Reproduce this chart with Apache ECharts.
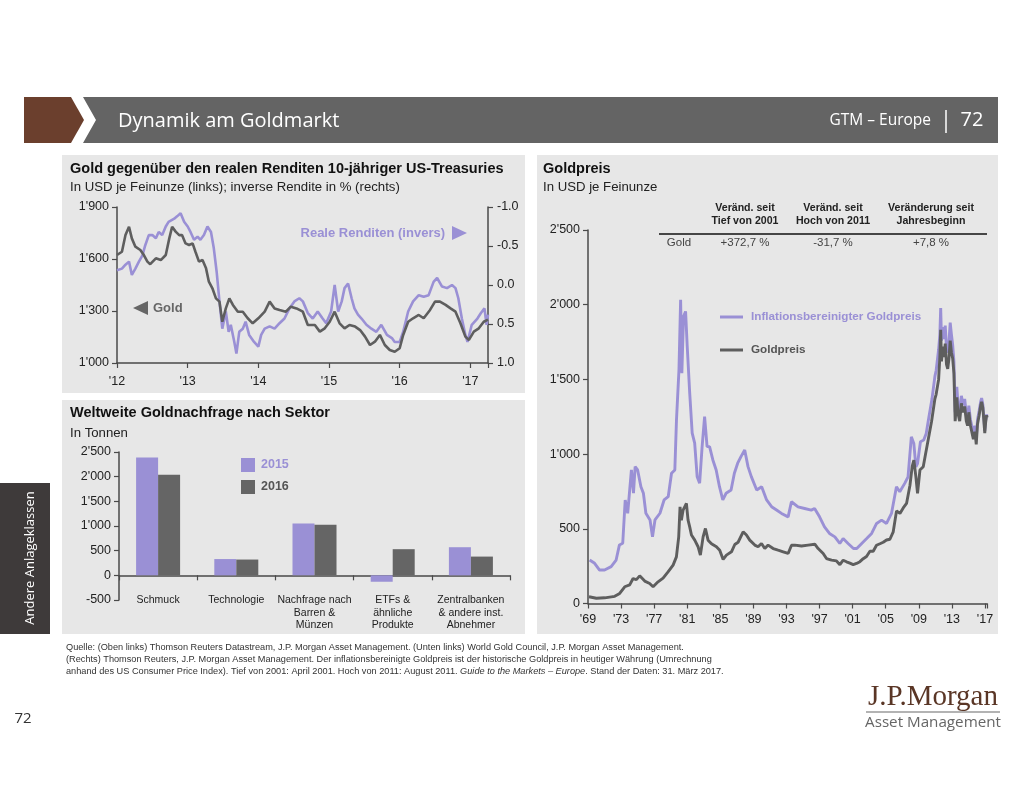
<!DOCTYPE html>
<html><head><meta charset="utf-8">
<script src="https://cdn.jsdelivr.net/npm/echarts/dist/echarts.min.js"></script>
<style>html,body{margin:0;padding:0;background:#fff}#c{width:1024px;height:791px}</style>
</head><body><div id="c"></div>
<script>
// ---------- Top left: gold price (USD/oz) vs 10y real yield (%, inverted) ----------
const goldT = [2012.00,2012.07,2012.12,2012.17,2012.21,2012.26,2012.33,2012.38,2012.43,2012.47,2012.55,2012.62,2012.69,2012.74,2012.78,2012.83,2012.88,2012.92,2012.97,
  2013.02,2013.07,2013.11,2013.16,2013.21,2013.26,2013.30,2013.35,2013.40,2013.45,2013.49,2013.54,2013.59,2013.64,2013.71,2013.78,2013.85,2013.92,
  2014.00,2014.09,2014.16,2014.23,2014.30,2014.39,2014.46,2014.54,2014.63,2014.70,2014.80,2014.87,2014.94,
  2015.01,2015.08,2015.15,2015.22,2015.29,2015.37,2015.44,2015.51,2015.58,2015.65,2015.72,2015.79,2015.86,2015.93,
  2016.00,2016.05,2016.12,2016.19,2016.27,2016.34,2016.43,2016.50,2016.57,2016.65,2016.72,2016.79,2016.86,2016.93,2016.98,
  2017.05,2017.12,2017.19,2017.25];
const goldV = [1623,1642,1738,1786,1719,1671,1652,1623,1585,1570,1604,1594,1623,1719,1786,1758,1738,1738,1690,
  1681,1690,1642,1585,1594,1546,1469,1431,1373,1354,1238,1315,1373,1335,1296,1296,1258,1229,
  1258,1296,1354,1315,1306,1296,1325,1315,1296,1219,1219,1181,1200,
  1238,1296,1229,1200,1219,1210,1190,1152,1104,1123,1162,1104,1075,1065,
  1085,1162,1238,1258,1277,1258,1306,1354,1354,1335,1315,1296,1229,1152,1133,
  1181,1200,1238,1250];
const yieldT = [2012.00,2012.07,2012.12,2012.17,2012.21,2012.26,2012.31,2012.36,2012.40,2012.45,2012.50,2012.55,2012.59,2012.64,2012.69,2012.73,2012.81,2012.85,2012.90,2012.95,
  2013.00,2013.04,2013.09,2013.14,2013.18,2013.23,2013.28,2013.33,2013.37,2013.41,2013.45,2013.49,2013.54,2013.58,2013.61,2013.66,2013.69,2013.73,2013.78,2013.82,2013.87,2013.94,
  2014.00,2014.04,2014.09,2014.16,2014.23,2014.30,2014.37,2014.44,2014.51,2014.58,2014.63,2014.70,2014.77,2014.84,2014.91,2014.96,
  2015.03,2015.08,2015.13,2015.18,2015.22,2015.27,2015.32,2015.36,2015.41,2015.46,2015.53,2015.60,2015.67,2015.74,2015.82,2015.89,2015.93,
  2016.00,2016.05,2016.12,2016.19,2016.27,2016.34,2016.41,2016.48,2016.53,2016.60,2016.67,2016.74,2016.79,2016.83,2016.88,2016.93,2016.96,
  2017.02,2017.10,2017.15,2017.20,2017.23,2017.25];
const yieldV = [-0.19,-0.21,-0.26,-0.30,-0.13,-0.21,-0.30,-0.38,-0.51,-0.64,-0.64,-0.60,-0.68,-0.64,-0.75,-0.81,-0.85,-0.88,-0.92,-0.81,
  -0.75,-0.68,-0.58,-0.62,-0.58,-0.64,-0.75,-0.68,-0.47,-0.17,0.21,0.56,0.34,0.60,0.51,0.73,0.88,0.60,0.56,0.47,0.64,0.73,
  0.79,0.64,0.56,0.53,0.56,0.49,0.43,0.30,0.21,0.17,0.21,0.36,0.43,0.34,0.43,0.49,
  0.34,0.00,0.34,0.21,0.04,-0.02,0.17,0.30,0.38,0.43,0.51,0.56,0.60,0.51,0.64,0.68,0.73,
  0.73,0.60,0.34,0.21,0.13,0.15,0.13,-0.04,-0.09,0.02,0.04,0.00,0.04,0.17,0.43,0.64,0.73,
  0.51,0.43,0.36,0.30,0.51,0.38];
const tlYearLabels = ["'12","'13","'14","'15","'16","'17"];

// ---------- Bottom left: world gold demand by sector (tonnes) ----------
const demandCats = ['Schmuck','Technologie','Nachfrage nach\nBarren &\nMünzen','ETFs &\nähnliche\nProdukte','Zentralbanken\n& andere inst.\nAbnehmer'];
const demand2015 = [2390,330,1050,-130,570];
const demand2016 = [2040,320,1025,530,380];

// ---------- Right: gold price, nominal and inflation-adjusted (USD/oz) ----------
const nomT = [1969.12,1970.01,1971.02,1972.23,1972.83,1973.44,1974.04,1974.45,1974.85,1975.25,1975.86,1976.46,1976.87,1977.47,1978.08,1978.68,1979.29,1979.69,1979.97,
  1980.13,1980.29,1980.50,1980.70,1980.90,1981.10,1981.30,1981.51,1981.91,1982.31,1982.59,1982.92,1983.20,1983.52,1983.93,1984.53,1984.93,1985.34,1985.74,
  1986.35,1986.75,1987.15,1987.76,1988.16,1988.56,1989.17,1989.57,1989.98,1990.38,1990.78,1991.39,1991.99,1992.60,1993.20,1993.61,1994.01,1994.82,1995.62,
  1996.43,1996.83,1997.44,1997.84,1998.45,1999.05,1999.46,1999.86,2000.26,2000.67,2001.07,2001.47,2001.88,2002.28,2002.68,2003.09,2003.49,2003.89,
  2004.30,2004.70,2005.10,2005.51,2005.91,2006.31,2006.72,2007.12,2007.52,2007.93,2008.21,2008.41,2008.65,2008.85,2009.14,2009.54,2009.82,
  2010.15,2010.55,2010.95,2011.10,2011.40,2011.55,2011.65,2011.75,2011.90,2012.05,2012.20,2012.35,2012.50,2012.65,2012.80,2012.95,
  2013.10,2013.25,2013.40,2013.50,2013.60,2013.75,2013.95,2014.15,2014.35,2014.55,2014.75,2014.90,2015.05,2015.25,2015.45,2015.60,2015.80,2015.95,
  2016.10,2016.30,2016.50,2016.60,2016.75,2016.90,2016.98,2017.10,2017.20,2017.25];
const nomV = [45,35,38,48,67,112,125,167,160,185,150,134,112,145,170,212,257,312,446,
  647,558,625,636,670,558,513,458,424,380,324,446,502,424,400,380,357,295,324,
  346,395,410,480,458,424,391,380,402,368,391,368,357,346,335,390,391,385,391,
  397,368,335,301,290,285,260,290,279,270,260,268,280,300,315,350,350,390,
  400,410,425,430,480,620,603,640,670,790,920,960,848,737,893,915,1000,
  1100,1220,1370,1400,1500,1650,1832,1620,1720,1650,1740,1600,1570,1640,1760,1680,
  1640,1540,1220,1300,1380,1270,1220,1340,1280,1320,1220,1190,1280,1190,1180,1100,1150,1065,
  1200,1260,1330,1350,1310,1200,1140,1220,1260,1245];
const realT = [1969.20,1969.80,1970.40,1971.00,1971.80,1972.40,1972.80,1973.20,1973.50,1973.80,1974.25,1974.50,1974.70,1975.00,1975.40,1975.70,1976.00,1976.50,1976.80,
  1977.10,1977.70,1978.20,1978.70,1979.10,1979.50,1979.70,1980.00,1980.20,1980.35,1980.55,1980.80,1981.00,1981.30,1981.60,1981.90,1982.20,1982.50,1982.80,
  1983.10,1983.40,1983.70,1984.10,1984.50,1984.90,1985.30,1985.70,1986.30,1986.70,1987.10,1987.50,1987.95,1988.35,1988.75,1989.40,1990.00,1990.60,1991.20,1991.80,
  1992.40,1993.20,1993.60,1994.40,1995.20,1996.00,1996.40,1997.00,1997.60,1998.20,1998.85,1999.45,1999.85,2000.45,2001.10,2001.50,2002.10,2002.70,2003.30,2003.90,
  2004.50,2005.10,2005.70,2006.30,2006.70,2007.30,2007.70,2008.10,2008.40,2008.65,2008.85,2009.20,2009.60,2009.90,2010.20,2010.60,2010.95,
  2011.10,2011.40,2011.55,2011.65,2011.75,2011.90,2012.05,2012.20,2012.35,2012.50,2012.65,2012.80,2012.95,
  2013.10,2013.25,2013.40,2013.50,2013.60,2013.75,2013.95,2014.15,2014.35,2014.55,2014.75,2014.90,2015.05,2015.25,2015.45,2015.60,2015.80,2015.95,
  2016.10,2016.30,2016.50,2016.60,2016.75,2016.90,2016.98,2017.10,2017.20,2017.25];
const realV = [291,269,224,224,247,291,392,403,693,604,894,738,916,894,782,738,604,559,447,
  559,604,693,715,872,894,1229,1564,2033,1542,1921,1955,1720,1408,1140,1073,849,805,1050,
  1251,1050,1050,961,894,782,693,738,760,872,939,983,1028,916,849,760,782,693,648,626,
  603,580,681,647,636,625,636,580,513,469,446,402,435,402,368,368,402,435,469,536,
  558,536,603,781,748,804,848,1116,1071,915,937,1083,1094,1138,1240,1370,1520,
  1560,1700,1800,1977,1760,1850,1770,1860,1710,1680,1750,1880,1800,
  1730,1620,1280,1370,1450,1330,1280,1390,1330,1370,1265,1230,1325,1230,1220,1140,1190,1100,
  1230,1290,1355,1375,1330,1220,1155,1230,1265,1248];
const rYearLabels = ["'69","'73","'77","'81","'85","'89","'93","'97","'01","'05","'09","'13","'17"];

// ---------- Table (right chart) ----------
const tableHeaders = ['Veränd. seit\nTief von 2001','Veränd. seit\nHoch von 2011','Veränderung seit\nJahresbeginn'];
const tableRow = ['Gold','+372,7 %','-31,7 %','+7,8 %'];

// ---------- Styling ----------
const PURPLE = '#9a90d5';
const GREY = '#5e5e5e';
const BAR_GREY = '#656565';
const F = '"Liberation Sans", Arial, Helvetica, sans-serif';
const FN = '"Liberation Sans Narrow", "Arial Narrow", ' + F;
const OS = '"Open Sans", "Noto Sans", sans-serif';
const AX = '#4a4a4a';

function thou(v){
  const neg = v < 0; let s = String(Math.round(Math.abs(v)));
  if (s.length > 3) s = s.slice(0, s.length-3) + "'" + s.slice(s.length-3);
  return (neg ? '-' : '') + s;
}
function txt(x, y, text, opt){
  opt = opt || {};
  return { type:'text', silent:true, z: 100, x: x, y: y, rotation: opt.rotation || 0,
    style: { text: text, fill: opt.color || '#222',
      font: (opt.italic ? 'italic ' : '') + (opt.weight || 'normal') + ' ' + (opt.size || 12) + 'px ' + (opt.family || F),
      textAlign: opt.align || 'left', align: opt.align || 'left',
      textVerticalAlign: opt.va || 'middle', verticalAlign: opt.va || 'middle',
      lineHeight: opt.lh, rich: opt.rich } };
}

const axisLineStyle = { show:true, onZero:false, lineStyle:{ color: AX, width: 1.5 } };
const axisTickStyle = { show:true, length:5, lineStyle:{ color: AX, width: 1.2 } };
const lblStyle = { color:'#222', fontSize:12.5, fontFamily:F };

const graphics = [
  // panels
  { type:'rect', shape:{x:62,y:155,width:463,height:238}, style:{fill:'#e7e7e7'}, z:0, silent:true },
  { type:'rect', shape:{x:62,y:400,width:463,height:234}, style:{fill:'#e7e7e7'}, z:0, silent:true },
  { type:'rect', shape:{x:537,y:155,width:461,height:479}, style:{fill:'#e7e7e7'}, z:0, silent:true },
  // header
  { type:'polygon', shape:{points:[[24,97],[71,97],[84,120],[71,143],[24,143]]}, style:{fill:'#6b3f2d'}, z:1, silent:true },
  { type:'polygon', shape:{points:[[83,97],[998,97],[998,143],[83,143],[96,120]]}, style:{fill:'#646464'}, z:1, silent:true },
  txt(118, 121, 'Dynamik am Goldmarkt', {color:'#fff', size:20, family:OS}),
  txt(931, 121, 'GTM – Europe', {color:'#fff', size:15.5, family:OS, align:'right'}),
  { type:'line', shape:{x1:946,y1:110,x2:946,y2:133}, style:{stroke:'#fff', lineWidth:1.5}, z:5, silent:true },
  txt(972, 120, '72', {color:'#fff', size:20, family:OS, align:'center'}),
  // side tab
  { type:'rect', shape:{x:0,y:483,width:50,height:151}, style:{fill:'#3e3a3a'}, z:1, silent:true },
  txt(30, 558, 'Andere Anlageklassen', {color:'#fff', size:13, family:OS, align:'center', rotation:Math.PI/2}),
  // panel titles
  txt(70, 169, 'Gold gegenüber den realen Renditen 10-jähriger US-Treasuries', {weight:'bold', size:14.5, color:'#111'}),
  txt(70, 187, 'In USD je Feinunze (links); inverse Rendite in % (rechts)', {size:13.2, color:'#222'}),
  txt(70, 413, 'Weltweite Goldnachfrage nach Sektor', {weight:'bold', size:14.5, color:'#111'}),
  txt(70, 433, 'In Tonnen', {size:13.2, color:'#222'}),
  txt(543, 169, 'Goldpreis', {weight:'bold', size:14.5, color:'#111'}),
  txt(543, 187, 'In USD je Feinunze', {size:13.2, color:'#222'}),
  // top-left annotations
  txt(445, 233, 'Reale Renditen (invers)', {weight:'bold', size:13, color:PURPLE, align:'right'}),
  { type:'polygon', shape:{points:[[452,226],[467,233],[452,240]]}, style:{fill:PURPLE}, z:100, silent:true },
  txt(153, 308, 'Gold', {weight:'bold', size:13, color:'#666', align:'left'}),
  { type:'polygon', shape:{points:[[148,301],[133,308],[148,315]]}, style:{fill:'#666'}, z:100, silent:true },
  // table
  txt(745, 215, tableHeaders[0], {weight:'bold', size:10.6, color:'#222', align:'center', lh:13}),
  txt(833, 215, tableHeaders[1], {weight:'bold', size:10.6, color:'#222', align:'center', lh:13}),
  txt(931, 215, tableHeaders[2], {weight:'bold', size:10.6, color:'#222', align:'center', lh:13}),
  { type:'line', shape:{x1:659,y1:234,x2:987,y2:234}, style:{stroke:'#111', lineWidth:1.5}, z:5, silent:true },
  txt(679, 243, tableRow[0], {size:11.5, color:'#444', align:'center'}),
  txt(745, 243, tableRow[1], {size:11.5, color:'#444', align:'center'}),
  txt(833, 243, tableRow[2], {size:11.5, color:'#444', align:'center'}),
  txt(931, 243, tableRow[3], {size:11.5, color:'#444', align:'center'}),
  // footer
  txt(66, 647, 'Quelle: (Oben links) Thomson Reuters Datastream, J.P. Morgan Asset Management. (Unten links) World Gold Council, J.P. Morgan Asset Management.', {size:9.2, color:'#333', family:FN}),
  txt(66, 659, '(Rechts) Thomson Reuters, J.P. Morgan Asset Management. Der inflationsbereinigte Goldpreis ist der historische Goldpreis in heutiger Währung (Umrechnung', {size:9.2, color:'#333', family:FN}),
  txt(66, 671, 'anhand des US Consumer Price Index). Tief von 2001: April 2001. Hoch von 2011: August 2011. {i|Guide to the Markets – Europe}. Stand der Daten: 31. März 2017.', {size:9.2, color:'#333', family:FN,
    rich:{ i:{ fontStyle:'italic', fontSize:9.2, fontFamily:FN, fill:'#333' } } }),
  // page number
  txt(23, 719, '72', {size:15, color:'#333', family:OS, align:'center'}),
  // logo
  txt(933, 697, 'J.P.Morgan', {size:29, color:'#5a3626', family:'"Liberation Serif", "DejaVu Serif", serif', align:'center'}),
  { type:'line', shape:{x1:866,y1:712,x2:1000,y2:712}, style:{stroke:'#9a9a9a', lineWidth:1.5}, z:5, silent:true },
  txt(933, 723, 'Asset Management', {size:15.2, color:'#666', family:OS, align:'center'})
];

const option = {
  animation: false,
  backgroundColor: '#ffffff',
  graphic: { elements: graphics },
  legend: [
    { left: 236, top: 453, orient:'vertical', itemWidth:14, itemHeight:14, itemGap:8, icon:'rect', selectedMode:false,
      textStyle:{ fontFamily:F, fontSize:12.5, fontWeight:'bold', padding:[0,0,0,1] },
      data:[ {name:'2015', textStyle:{color:PURPLE}}, {name:'2016', textStyle:{color:'#555'}} ] },
    { left: 715, top: 306, orient:'vertical', itemWidth:23, itemHeight:3, itemGap:21, icon:'rect', selectedMode:false,
      textStyle:{ fontFamily:F, fontSize:11.7, fontWeight:'bold', padding:[0,0,0,3] },
      data:[ {name:'Inflationsbereinigter Goldpreis', textStyle:{color:PURPLE}}, {name:'Goldpreis', textStyle:{color:'#555'}} ] }
  ],
  grid: [
    { left:117, right:1024-488, top:207, bottom:791-363 },
    { left:119, right:1024-510, top:452, bottom:791-600 },
    { left:588, right:1024-987, top:230, bottom:791-603.5 }
  ],
  xAxis: [
    { gridIndex:0, type:'value', min:2012, max:2017.25, interval:1,
      axisLine:axisLineStyle, axisTick:axisTickStyle, splitLine:{show:false},
      axisLabel:{ ...lblStyle, margin:12, formatter: v => Number.isInteger(v) ? tlYearLabels[v-2012] : '' } },
    { gridIndex:1, type:'category', data:demandCats,
      axisLine:{ show:true, onZero:true, lineStyle:{color:AX, width:1.5} },
      axisTick:{ show:true, length:5, alignWithLabel:false, lineStyle:{color:AX, width:1.2} },
      axisLabel:{ color:'#222', fontSize:10.5, fontFamily:F, margin:-6, lineHeight:12.5, interval:0 } },
    { gridIndex:2, type:'value', min:1969, max:2017.25, interval:4,
      axisLine:axisLineStyle, axisTick:axisTickStyle, splitLine:{show:false},
      axisLabel:{ ...lblStyle, margin:10, formatter: v => Number.isInteger(v) && (v-1969)%4===0 ? rYearLabels[(v-1969)/4] : '' } }
  ],
  yAxis: [
    { gridIndex:0, type:'value', min:1000, max:1900, interval:300, position:'left',
      axisLine:axisLineStyle, axisTick:axisTickStyle, splitLine:{show:false},
      axisLabel:{ ...lblStyle, margin:8, formatter: v => thou(v) } },
    { gridIndex:0, type:'value', min:-1, max:1, interval:0.5, position:'right', inverse:true,
      axisLine:axisLineStyle, axisTick:axisTickStyle, splitLine:{show:false},
      axisLabel:{ ...lblStyle, margin:9, formatter: v => v.toFixed(1) } },
    { gridIndex:1, type:'value', min:-500, max:2500, interval:500,
      axisLine:axisLineStyle, axisTick:axisTickStyle, splitLine:{show:false},
      axisLabel:{ ...lblStyle, margin:8, formatter: v => thou(v) } },
    { gridIndex:2, type:'value', min:0, max:2500, interval:500,
      axisLine:axisLineStyle, axisTick:axisTickStyle, splitLine:{show:false},
      axisLabel:{ ...lblStyle, margin:8, formatter: v => thou(v) } }
  ],
  series: [
    { name:'Reale Renditen', type:'line', xAxisIndex:0, yAxisIndex:1, showSymbol:false, symbol:'none',
      data: yieldT.map((t,i)=>[t, yieldV[i]]), itemStyle:{color:PURPLE}, lineStyle:{color:PURPLE, width:2.6}, z:2 },
    { name:'Gold', type:'line', xAxisIndex:0, yAxisIndex:0, showSymbol:false, symbol:'none',
      data: goldT.map((t,i)=>[t, goldV[i]]), itemStyle:{color:GREY}, lineStyle:{color:GREY, width:2.6}, z:3 },
    { name:'2015', type:'bar', xAxisIndex:1, yAxisIndex:2, data:demand2015, barWidth:22, barGap:'0%',
      itemStyle:{color:PURPLE} },
    { name:'2016', type:'bar', xAxisIndex:1, yAxisIndex:2, data:demand2016, barWidth:22, barGap:'0%',
      itemStyle:{color:BAR_GREY} },
    { name:'Inflationsbereinigter Goldpreis', type:'line', xAxisIndex:2, yAxisIndex:3, showSymbol:false, symbol:'none',
      data: realT.map((t,i)=>[t, realV[i]]), itemStyle:{color:PURPLE}, lineStyle:{color:PURPLE, width:2.9}, z:2 },
    { name:'Goldpreis', type:'line', xAxisIndex:2, yAxisIndex:3, showSymbol:false, symbol:'none',
      data: nomT.map((t,i)=>[t, nomV[i]]), itemStyle:{color:GREY}, lineStyle:{color:GREY, width:2.9}, z:3 }
  ]
};

const chart = echarts.init(document.getElementById('c'), null, {renderer:'canvas', width:1024, height:791});
chart.setOption(option);
</script></body></html>
